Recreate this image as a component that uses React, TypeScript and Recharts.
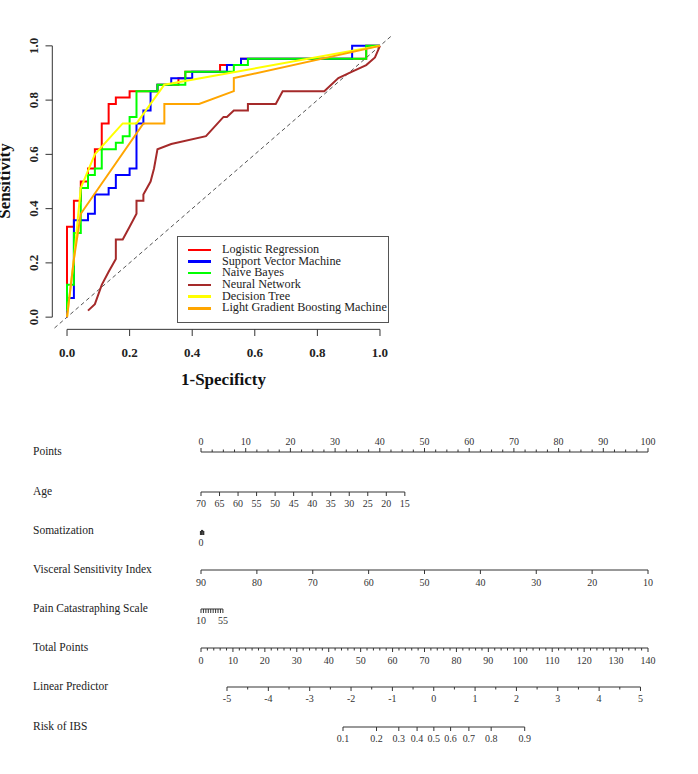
import React from 'react';
import { LineChart, Line, XAxis, YAxis, ReferenceLine, Legend, Label } from 'recharts';

const FONT = '"Liberation Serif", "Times New Roman", serif';

// ROC curves: 1-specificity (x) and sensitivity (y)
const lrX = [0, 0, 0.022, 0.022, 0.044, 0.044, 0.067, 0.067, 0.089, 0.089, 0.111, 0.111, 0.133, 0.133, 0.156, 0.156, 0.2, 0.2, 0.289, 0.289, 0.356, 0.356, 0.378, 0.378, 0.489, 0.489, 0.556, 0.556, 0.956, 0.956, 1];
const lrY = [0, 0.333, 0.333, 0.429, 0.429, 0.5, 0.5, 0.548, 0.548, 0.619, 0.619, 0.714, 0.714, 0.786, 0.786, 0.81, 0.81, 0.833, 0.833, 0.857, 0.857, 0.881, 0.881, 0.905, 0.905, 0.929, 0.929, 0.952, 0.952, 1, 1];

const svmX = [0, 0, 0.022, 0.022, 0.067, 0.067, 0.089, 0.089, 0.133, 0.133, 0.156, 0.156, 0.2, 0.2, 0.222, 0.222, 0.244, 0.244, 0.267, 0.267, 0.289, 0.289, 0.333, 0.333, 0.4, 0.4, 0.511, 0.511, 0.556, 0.556, 0.911, 0.911, 1];
const svmY = [0, 0.071, 0.071, 0.357, 0.357, 0.381, 0.381, 0.452, 0.452, 0.476, 0.476, 0.524, 0.524, 0.548, 0.548, 0.714, 0.714, 0.762, 0.762, 0.833, 0.833, 0.857, 0.857, 0.881, 0.881, 0.905, 0.905, 0.929, 0.929, 0.952, 0.952, 1, 1];

const nbX = [0, 0, 0.022, 0.022, 0.044, 0.044, 0.067, 0.067, 0.089, 0.089, 0.111, 0.111, 0.156, 0.156, 0.178, 0.178, 0.2, 0.2, 0.222, 0.222, 0.289, 0.289, 0.378, 0.378, 0.533, 0.533, 0.578, 0.578, 0.956, 0.956, 1];
const nbY = [0.024, 0.119, 0.119, 0.31, 0.31, 0.476, 0.476, 0.524, 0.524, 0.548, 0.548, 0.619, 0.619, 0.643, 0.643, 0.667, 0.667, 0.738, 0.738, 0.833, 0.833, 0.857, 0.857, 0.905, 0.905, 0.929, 0.929, 0.952, 0.952, 1, 1];

const nnX = [0.067, 0.089, 0.111, 0.133, 0.156, 0.156, 0.178, 0.2, 0.222, 0.222, 0.244, 0.244, 0.267, 0.278, 0.289, 0.333, 0.444, 0.5, 0.511, 0.533, 0.578, 0.578, 0.667, 0.689, 0.822, 0.867, 0.911, 0.956, 0.984, 1];
const nnY = [0.024, 0.048, 0.119, 0.167, 0.214, 0.286, 0.286, 0.333, 0.381, 0.429, 0.429, 0.452, 0.5, 0.548, 0.619, 0.638, 0.667, 0.738, 0.738, 0.762, 0.762, 0.786, 0.786, 0.833, 0.833, 0.881, 0.905, 0.929, 0.957, 1];

const dtX = [0, 0.022, 0.044, 0.089, 0.178, 0.222, 0.311, 1];
const dtY = [0, 0.214, 0.476, 0.6, 0.714, 0.714, 0.857, 1];

const gbX = [0, 0.022, 0.044, 0.244, 0.311, 0.311, 0.422, 0.533, 0.533, 1];
const gbY = [0, 0.214, 0.381, 0.714, 0.714, 0.786, 0.786, 0.833, 0.881, 1];

const rocTicks = [0, 0.2, 0.4, 0.6, 0.8, 1.0];
const rocDomain: [number, number] = [-0.04, 1.04];

const rocSeries = [
  { name: 'Logistic Regression', color: '#ff0000', x: lrX, y: lrY },
  { name: 'Support Vector Machine', color: '#0000ff', x: svmX, y: svmY },
  { name: 'Naive Bayes', color: '#00ff00', x: nbX, y: nbY },
  { name: 'Neural Network', color: '#a52a2a', x: nnX, y: nnY },
  { name: 'Decision Tree', color: '#ffff00', x: dtX, y: dtY },
  { name: 'Light Gradient Boosting Machine', color: '#ffa500', x: gbX, y: gbY },
];
const seriesOrder = rocSeries.map((s) => s.name);

// nomogram scales
const pointsLabels = [0, 10, 20, 30, 40, 50, 60, 70, 80, 90, 100];
const ageLabels = [70, 65, 60, 55, 50, 45, 40, 35, 30, 25, 20, 15];
const agePoints = [0, 45.6]; // points at age 70 and 15
const somLabels = [0];
const somPoints = [0, 0.5];
const vsiLabels = [90, 80, 70, 60, 50, 40, 30, 20, 10];
const vsiPoints = [0, 100];
const pcsTicks = [10, 15, 20, 25, 30, 35, 40, 45, 50, 55];
const pcsLabels = [10, 55];
const pcsPoints = [0, 4.9];
const totalLabels = [0, 10, 20, 30, 40, 50, 60, 70, 80, 90, 100, 110, 120, 130, 140];
const lpLabels = [-5, -4, -3, -2, -1, 0, 1, 2, 3, 4, 5];
const lpTotal = [8.1, 137.6]; // total points at lp -5 and 5
const riskLabels = [0.1, 0.2, 0.3, 0.4, 0.5, 0.6, 0.7, 0.8, 0.9];

const PTS_X0 = 201;
const PTS_X1 = 648;
const ptsX = (p: number) => PTS_X0 + (p / 100) * (PTS_X1 - PTS_X0);
const totX = (t: number) => PTS_X0 + (t / 140) * (PTS_X1 - PTS_X0);
const lpX = (l: number) => totX(lpTotal[0] + ((l + 5) / 10) * (lpTotal[1] - lpTotal[0]));
const logit = (p: number) => Math.log(p / (1 - p));
const range = (a: number, b: number, s: number) => {
  const out: number[] = [];
  for (let v = a; v <= b + 1e-9; v += s) out.push(Math.round(v * 1000) / 1000);
  return out;
};
const has = (arr: number[], v: number) => arr.some((a) => Math.abs(a - v) < 1e-6);

const RocXTick = (props: any) => {
  const { x, y, payload } = props;
  return (
    <g>
      <line x1={x} x2={x} y1={y + 1.4} y2={y + 8} stroke="#333" />
      <text x={x} y={y + 28.5} textAnchor="middle" fontFamily={FONT} fontWeight="bold" fontSize={13} fill="#222">
        {payload.value.toFixed(1)}
      </text>
    </g>
  );
};

const RocYTick = (props: any) => {
  const { x, y, payload } = props;
  return (
    <g>
      <line x1={x - 2.2} x2={x - 9} y1={y} y2={y} stroke="#333" />
      <text transform={`translate(${x - 21.5},${y}) rotate(-90)`} dy={4.5} textAnchor="middle" fontFamily={FONT} fontWeight="bold" fontSize={13} fill="#222">
        {payload.value.toFixed(1)}
      </text>
    </g>
  );
};

const RocLegend = (props: any) => {
  const items = [...(props.payload || [])].sort(
    (a: any, b: any) => seriesOrder.indexOf(a.value) - seriesOrder.indexOf(b.value),
  );
  return (
    <div style={{ border: '1px solid #555', background: '#fff', padding: '7px 0 8px 0', width: 210, fontFamily: FONT, fontSize: 12.2, color: '#222', boxSizing: 'content-box' }}>
      {items.map((e: any) => (
        <div key={e.value} style={{ display: 'flex', alignItems: 'center', height: 11.7, lineHeight: '11.7px', whiteSpace: 'nowrap' }}>
          <span style={{ display: 'inline-block', flexShrink: 0, width: 23, height: 2.5, background: e.color, marginLeft: 10, marginRight: 11 }} />
          <span>{e.value}</span>
        </div>
      ))}
    </div>
  );
};

function RocChart() {
  return (
    <LineChart width={400} height={400} margin={{ top: 35, right: 7.5, bottom: 0, left: 0 }} style={{ position: 'absolute', left: 0, top: 0 }}>
      <XAxis type="number" dataKey="x" domain={rocDomain} ticks={rocTicks} interval={0} allowDataOverflow axisLine={false} tickLine={false} tickSize={0} tickMargin={0} height={72} tick={<RocXTick />}>
        <Label content={() => (
          <text x={223.5} y={385} textAnchor="middle" fontFamily={FONT} fontWeight="bold" fontSize={17} fill="#111">1-Specificty</text>
        )} />
      </XAxis>
      <YAxis type="number" dataKey="y" domain={rocDomain} ticks={rocTicks} interval={0} allowDataOverflow axisLine={false} tickLine={false} tickSize={0} tickMargin={0} width={54.5} tick={<RocYTick />}>
        <Label content={() => (
          <text transform="translate(10,181) rotate(-90)" textAnchor="middle" fontFamily={FONT} fontWeight="bold" fontSize={17} fill="#111">Sensitivity</text>
        )} />
      </YAxis>
      <ReferenceLine segment={[{ x: 0, y: -0.045 }, { x: 1, y: -0.045 }]} stroke="#333" ifOverflow="visible" />
      <ReferenceLine segment={[{ x: -0.047, y: 0 }, { x: -0.047, y: 1 }]} stroke="#333" ifOverflow="visible" />
      <ReferenceLine segment={[{ x: -0.04, y: -0.04 }, { x: 1.04, y: 1.04 }]} stroke="#555" strokeDasharray="4 3" ifOverflow="visible" />
      {rocSeries.map((s) => (
        <Line
          key={s.name}
          name={s.name}
          data={s.x.map((x, i) => ({ x, y: s.y[i] }))}
          dataKey="y"
          type="linear"
          stroke={s.color}
          strokeWidth={2}
          dot={false}
          activeDot={false}
          isAnimationActive={false}
        />
      ))}
      <Legend layout="vertical" align="center" verticalAlign="middle" content={<RocLegend />} wrapperStyle={{ left: 177, top: 236, width: 212 }} />
    </LineChart>
  );
}

type RowProps = {
  name: string;
  lineY: number;
  x0: number;
  x1: number;
  domain: [number, number];
  reversed?: boolean;
  ticks: number[];
  labels: number[];
  major?: number[];
  top?: boolean;
  fmt?: (v: number) => string;
  weight?: number;
};

function NomoRow({ name, lineY, x0, x1, domain, reversed, ticks, labels, major, top, fmt, weight }: RowProps) {
  const pad = 20;
  const axisH = 26;
  const h = 44;
  const chartTop = top ? lineY - axisH : lineY - (h - axisH);
  const format = fmt || ((v: number) => String(v));
  const renderTick = (p: any) => {
    const v = p.payload.value;
    const isMajor = major ? has(major, v) : true;
    const len = isMajor ? 4 : 2.5;
    const dir = top ? -1 : 1;
    return (
      <g key={`t-${v}`}>
        <line x1={p.x} x2={p.x} y1={p.y} y2={p.y + dir * len} stroke="#333" strokeWidth={weight || 1} />
        {has(labels, v) && (
          <text x={p.x} y={top ? p.y - 7.5 : p.y + 15.5} textAnchor="middle" fontFamily={FONT} fontSize={10} fill="#333">
            {format(v)}
          </text>
        )}
      </g>
    );
  };
  return (
    <>
      <div style={{ position: 'absolute', left: 33, top: lineY - 8, fontFamily: FONT, fontSize: 11.5, color: '#222', lineHeight: '14px', whiteSpace: 'nowrap' }}>
        {name}
      </div>
      <div style={{ position: 'absolute', left: x0 - pad, top: chartTop }}>
        <LineChart width={x1 - x0 + 2 * pad} height={h} margin={{ top: 0, bottom: 0, left: pad, right: pad }} data={ticks.map((v) => ({ v }))}>
          <XAxis
            type="number"
            dataKey="v"
            domain={domain}
            reversed={reversed}
            ticks={ticks}
            interval={0}
            allowDataOverflow
            orientation={top ? 'top' : 'bottom'}
            height={axisH}
            tickSize={0}
            tickMargin={0}
            tickLine={false}
            axisLine={{ stroke: '#333', strokeWidth: weight || 1 }}
            tick={renderTick}
          />
        </LineChart>
      </div>
    </>
  );
}

function Nomogram() {
  return (
    <>
      <NomoRow name="Points" lineY={452} x0={ptsX(0)} x1={ptsX(100)} domain={[0, 100]} ticks={range(0, 100, 2.5)} labels={pointsLabels} major={pointsLabels} top />
      <NomoRow name="Age" lineY={492} x0={ptsX(agePoints[0])} x1={ptsX(agePoints[1])} domain={[15, 70]} reversed ticks={ageLabels} labels={ageLabels} />
      <NomoRow name="Somatization" lineY={531} x0={ptsX(somPoints[0])} x1={ptsX(somPoints[1])} domain={[0, 1]} ticks={[0, 1]} labels={somLabels} weight={2.2} />
      <NomoRow name="Visceral Sensitivity Index" lineY={570} x0={ptsX(vsiPoints[0])} x1={ptsX(vsiPoints[1])} domain={[10, 90]} reversed ticks={vsiLabels} labels={vsiLabels} />
      <NomoRow name="Pain Catastraphing Scale" lineY={609} x0={ptsX(pcsPoints[0])} x1={ptsX(pcsPoints[1])} domain={[10, 55]} ticks={pcsTicks} labels={pcsLabels} />
      <NomoRow name="Total Points" lineY={648} x0={totX(0)} x1={totX(140)} domain={[0, 140]} ticks={range(0, 140, 2)} labels={totalLabels} major={totalLabels} />
      <NomoRow name="Linear Predictor" lineY={687} x0={lpX(-5)} x1={lpX(5)} domain={[-5, 5]} ticks={range(-5, 5, 0.5)} labels={lpLabels} major={lpLabels} />
      <NomoRow
        name="Risk of IBS"
        lineY={727}
        x0={lpX(logit(riskLabels[0]))}
        x1={lpX(logit(riskLabels[riskLabels.length - 1]))}
        domain={[logit(riskLabels[0]), logit(riskLabels[riskLabels.length - 1])]}
        ticks={riskLabels.map(logit)}
        labels={riskLabels.map(logit)}
        fmt={(v) => (1 / (1 + Math.exp(-v))).toFixed(1)}
      />
    </>
  );
}

export default function App() {
  return (
    <div style={{ position: 'absolute', left: 0, top: 0, width: 698, height: 774, background: '#fff', overflow: 'hidden' }}>
      <RocChart />
      <Nomogram />
    </div>
  );
}
